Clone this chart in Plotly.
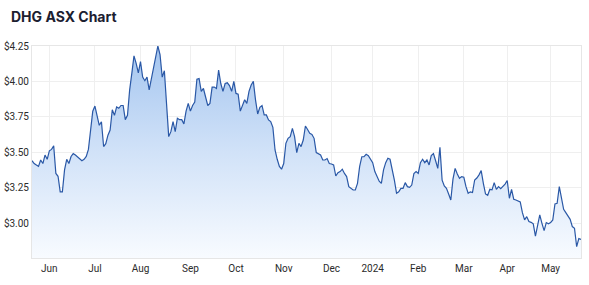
import pandas as pd
import plotly.graph_objects as go

# ASX trading days, 22 May 2023 - 21 May 2024
start_date = "2023-05-22"
end_date = "2024-05-21"
asx_holidays = ["2023-06-12", "2023-12-25", "2023-12-26", "2024-01-01",
                "2024-01-26", "2024-03-29", "2024-04-01", "2024-04-25"]

# closing prices (A$), one per trading day
prices = [
    3.44, 3.42, 3.41, 3.40, 3.445, 3.42, 3.48, 3.45, 3.51, 3.52,
    3.545, 3.35, 3.33, 3.22, 3.22, 3.375, 3.45, 3.42, 3.47, 3.49,
    3.48, 3.465, 3.45, 3.44, 3.45, 3.47, 3.52, 3.67, 3.79, 3.826,
    3.755, 3.69, 3.715, 3.54, 3.56, 3.62, 3.657, 3.80, 3.76, 3.82,
    3.81, 3.83, 3.83, 3.73, 3.76, 3.94, 4.057, 4.18, 4.128, 4.06,
    4.14, 4.03, 4.005, 4.03, 3.94, 4.015, 4.10, 4.19, 4.25, 4.19,
    4.03, 4.075, 3.80, 3.61, 3.645, 3.716, 3.645, 3.74, 3.73, 3.73,
    3.70, 3.79, 3.845, 3.79, 3.83, 3.855, 4.015, 4.02, 3.93, 3.95,
    3.89, 3.83, 3.845, 3.96, 3.96, 3.95, 4.08, 3.985, 3.93, 3.985,
    3.99, 3.97, 3.93, 4.00, 3.915, 3.91, 3.79, 3.825, 3.87, 3.845,
    3.93, 3.975, 4.00, 3.87, 3.77, 3.817, 3.83, 3.763, 3.763, 3.728,
    3.716, 3.676, 3.516, 3.45, 3.40, 3.38, 3.42, 3.563, 3.598, 3.61,
    3.668, 3.61, 3.497, 3.563, 3.54, 3.586, 3.685, 3.66, 3.633, 3.626,
    3.598, 3.497, 3.488, 3.48, 3.445, 3.445, 3.455, 3.42, 3.417, 3.41,
    3.332, 3.356, 3.363, 3.38, 3.35, 3.328, 3.257, 3.243, 3.233, 3.233,
    3.28, 3.40, 3.468, 3.468, 3.485, 3.476, 3.45, 3.426, 3.363, 3.328,
    3.295, 3.28, 3.375, 3.426, 3.457, 3.45, 3.386, 3.303, 3.21, 3.22,
    3.245, 3.245, 3.285, 3.257, 3.252, 3.268, 3.35, 3.363, 3.35, 3.426,
    3.45, 3.426, 3.445, 3.41, 3.476, 3.49, 3.44, 3.386, 3.535, 3.303,
    3.262, 3.245, 3.205, 3.163, 3.31, 3.386, 3.346, 3.316, 3.328, 3.323,
    3.257, 3.21, 3.22, 3.215, 3.304, 3.318, 3.34, 3.37, 3.28, 3.205,
    3.196, 3.238, 3.234, 3.285, 3.238, 3.257, 3.243, 3.257, 3.275, 3.30,
    3.175, 3.238, 3.168, 3.163, 3.158, 3.149, 3.073, 3.022, 3.045, 3.01,
    3.005, 2.994, 2.908, 2.986, 3.057, 2.998, 2.946, 3.003, 2.994, 3.003,
    3.022, 3.135, 3.139, 3.257, 3.163, 3.097, 3.073, 3.045, 3.026, 2.975,
    2.963, 2.833, 2.89, 2.885,
]

y_ticks = [3.00, 3.25, 3.50, 3.75, 4.00, 4.25]
y_tick_labels = ["$3.00", "$3.25", "$3.50", "$3.75", "$4.00", "$4.25"]

dates = pd.bdate_range(start_date, end_date, freq="C", holidays=asx_holidays)
n = min(len(dates), len(prices))
dates = dates[:n]
prices = prices[:n]
idx = list(range(n))

# ticks at the first trading day of each month
tick_vals, tick_text = [], []
for i in range(1, n):
    if dates[i].month != dates[i - 1].month:
        tick_vals.append(i)
        tick_text.append(str(dates[i].year) if dates[i].month == 1 else dates[i].strftime("%b"))

y_lo, y_hi = 2.753, 4.25

fig = go.Figure()
fig.add_trace(go.Scatter(
    x=idx, y=prices, mode="lines",
    line=dict(color="#2a58a6", width=1.2),
    fill="tozeroy",
    fillgradient=dict(type="vertical", start=y_lo, stop=y_hi,
                      colorscale=[[0, "#f8fbff"], [0.5, "#d1e2f8"], [1, "#a4c5ef"]]),
    customdata=[d.strftime("%d %b %Y") for d in dates],
    hovertemplate="%{customdata}<br>$%{y:.3f}<extra></extra>",
))

grid = "#efefef"
tick_font = dict(family="Roboto, Arial, sans-serif", size=10, color="#2b2b2b")
fig.update_layout(
    width=589, height=285,
    margin=dict(l=32, r=8, t=46, b=27),
    paper_bgcolor="white", plot_bgcolor="white",
    showlegend=False,
    font=dict(family="Roboto, Arial, sans-serif", size=10, color="#2b2b2b"),
    title=dict(text="<b>DHG ASX Chart</b>", x=11 / 589, xanchor="left",
               y=1 - 17 / 285, yanchor="middle",
               font=dict(family="Inter, Arial, sans-serif", size=14, color="#1b2030")),
    xaxis=dict(range=[0, n - 1], tickvals=tick_vals, ticktext=tick_text,
               showgrid=True, gridcolor=grid, gridwidth=1,
               showline=True, linecolor="#e6e6e6", mirror=True, automargin=False,
               zeroline=False, ticks="outside", ticklen=1, tickcolor="rgba(0,0,0,0)",
               tickfont=tick_font),
    yaxis=dict(range=[y_lo, y_hi], tickvals=y_ticks, ticktext=y_tick_labels,
               showgrid=True, gridcolor=grid, gridwidth=1,
               showline=True, linecolor="#e6e6e6", mirror=True, automargin=False,
               zeroline=False, ticks="", tickfont=tick_font),
)

fig.write_html("out.html")
